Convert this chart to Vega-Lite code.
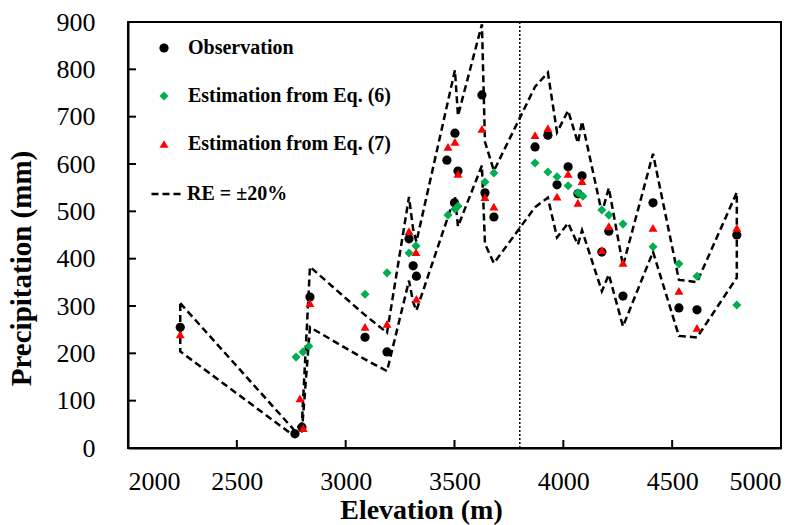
{
  "$schema": "https://vega.github.io/schema/vega-lite/v6.json",
  "width": 653,
  "height": 426,
  "autosize": {"type": "none"},
  "padding": {"left": 128, "top": 22, "right": 31, "bottom": 77},
  "background": "white",
  "config": {
    "view": {"stroke": "black", "strokeWidth": 2},
    "font": "Liberation Serif",
    "axis": {
      "grid": false,
      "domainColor": "black",
      "domainWidth": 2,
      "ticks": false,
      "labelFont": "Liberation Serif",
      "labelFontSize": 26,
      "labelColor": "black",
      "titleFont": "Liberation Serif",
      "titleFontSize": 29,
      "titleFontWeight": "bold",
      "titleColor": "black"
    },
    "legend": {
      "labelFont": "Liberation Serif",
      "labelFontSize": 20,
      "labelFontWeight": "bold",
      "labelColor": "black",
      "labelLimit": 400,
      "padding": 0
    }
  },
  "datasets": {
    "pts": [
      {"elev": 2240, "precip": 255, "series": "Observation"},
      {"elev": 2767, "precip": 30, "series": "Observation"},
      {"elev": 2799, "precip": 44, "series": "Observation"},
      {"elev": 2836, "precip": 319, "series": "Observation"},
      {"elev": 3089, "precip": 234, "series": "Observation"},
      {"elev": 3190, "precip": 203, "series": "Observation"},
      {"elev": 3291, "precip": 442, "series": "Observation"},
      {"elev": 3310, "precip": 385, "series": "Observation"},
      {"elev": 3325, "precip": 363, "series": "Observation"},
      {"elev": 3465, "precip": 608, "series": "Observation"},
      {"elev": 3500, "precip": 518, "series": "Observation"},
      {"elev": 3502, "precip": 665, "series": "Observation"},
      {"elev": 3516, "precip": 585, "series": "Observation"},
      {"elev": 3626, "precip": 746, "series": "Observation"},
      {"elev": 3640, "precip": 539, "series": "Observation"},
      {"elev": 3681, "precip": 488, "series": "Observation"},
      {"elev": 3870, "precip": 636, "series": "Observation"},
      {"elev": 3929, "precip": 661, "series": "Observation"},
      {"elev": 3971, "precip": 556, "series": "Observation"},
      {"elev": 4022, "precip": 594, "series": "Observation"},
      {"elev": 4067, "precip": 537, "series": "Observation"},
      {"elev": 4086, "precip": 575, "series": "Observation"},
      {"elev": 4177, "precip": 414, "series": "Observation"},
      {"elev": 4209, "precip": 458, "series": "Observation"},
      {"elev": 4274, "precip": 321, "series": "Observation"},
      {"elev": 4412, "precip": 518, "series": "Observation"},
      {"elev": 4531, "precip": 296, "series": "Observation"},
      {"elev": 4614, "precip": 292, "series": "Observation"},
      {"elev": 4797, "precip": 450, "series": "Observation"},
      {"elev": 2772, "precip": 192, "series": "Estimation from Eq. (6)"},
      {"elev": 2804, "precip": 203, "series": "Estimation from Eq. (6)"},
      {"elev": 2831, "precip": 215, "series": "Estimation from Eq. (6)"},
      {"elev": 3089, "precip": 325, "series": "Estimation from Eq. (6)"},
      {"elev": 3190, "precip": 370, "series": "Estimation from Eq. (6)"},
      {"elev": 3291, "precip": 412, "series": "Estimation from Eq. (6)"},
      {"elev": 3323, "precip": 427, "series": "Estimation from Eq. (6)"},
      {"elev": 3470, "precip": 492, "series": "Estimation from Eq. (6)"},
      {"elev": 3502, "precip": 505, "series": "Estimation from Eq. (6)"},
      {"elev": 3516, "precip": 511, "series": "Estimation from Eq. (6)"},
      {"elev": 3640, "precip": 562, "series": "Estimation from Eq. (6)"},
      {"elev": 3681, "precip": 581, "series": "Estimation from Eq. (6)"},
      {"elev": 3870, "precip": 602, "series": "Estimation from Eq. (6)"},
      {"elev": 3929, "precip": 583, "series": "Estimation from Eq. (6)"},
      {"elev": 3971, "precip": 573, "series": "Estimation from Eq. (6)"},
      {"elev": 4022, "precip": 554, "series": "Estimation from Eq. (6)"},
      {"elev": 4067, "precip": 539, "series": "Estimation from Eq. (6)"},
      {"elev": 4090, "precip": 532, "series": "Estimation from Eq. (6)"},
      {"elev": 4177, "precip": 503, "series": "Estimation from Eq. (6)"},
      {"elev": 4209, "precip": 492, "series": "Estimation from Eq. (6)"},
      {"elev": 4274, "precip": 473, "series": "Estimation from Eq. (6)"},
      {"elev": 4412, "precip": 425, "series": "Estimation from Eq. (6)"},
      {"elev": 4531, "precip": 389, "series": "Estimation from Eq. (6)"},
      {"elev": 4614, "precip": 363, "series": "Estimation from Eq. (6)"},
      {"elev": 4797, "precip": 302, "series": "Estimation from Eq. (6)"},
      {"elev": 2240, "precip": 240, "series": "Estimation from Eq. (7)"},
      {"elev": 2790, "precip": 105, "series": "Estimation from Eq. (7)"},
      {"elev": 2805, "precip": 42, "series": "Estimation from Eq. (7)"},
      {"elev": 2836, "precip": 306, "series": "Estimation from Eq. (7)"},
      {"elev": 3089, "precip": 256, "series": "Estimation from Eq. (7)"},
      {"elev": 3190, "precip": 262, "series": "Estimation from Eq. (7)"},
      {"elev": 3291, "precip": 458, "series": "Estimation from Eq. (7)"},
      {"elev": 3323, "precip": 414, "series": "Estimation from Eq. (7)"},
      {"elev": 3325, "precip": 315, "series": "Estimation from Eq. (7)"},
      {"elev": 3470, "precip": 636, "series": "Estimation from Eq. (7)"},
      {"elev": 3502, "precip": 647, "series": "Estimation from Eq. (7)"},
      {"elev": 3516, "precip": 579, "series": "Estimation from Eq. (7)"},
      {"elev": 3626, "precip": 674, "series": "Estimation from Eq. (7)"},
      {"elev": 3640, "precip": 530, "series": "Estimation from Eq. (7)"},
      {"elev": 3681, "precip": 510, "series": "Estimation from Eq. (7)"},
      {"elev": 3870, "precip": 661, "series": "Estimation from Eq. (7)"},
      {"elev": 3929, "precip": 676, "series": "Estimation from Eq. (7)"},
      {"elev": 3971, "precip": 531, "series": "Estimation from Eq. (7)"},
      {"elev": 4022, "precip": 579, "series": "Estimation from Eq. (7)"},
      {"elev": 4067, "precip": 518, "series": "Estimation from Eq. (7)"},
      {"elev": 4086, "precip": 564, "series": "Estimation from Eq. (7)"},
      {"elev": 4177, "precip": 418, "series": "Estimation from Eq. (7)"},
      {"elev": 4209, "precip": 469, "series": "Estimation from Eq. (7)"},
      {"elev": 4274, "precip": 391, "series": "Estimation from Eq. (7)"},
      {"elev": 4412, "precip": 465, "series": "Estimation from Eq. (7)"},
      {"elev": 4531, "precip": 332, "series": "Estimation from Eq. (7)"},
      {"elev": 4614, "precip": 254, "series": "Estimation from Eq. (7)"},
      {"elev": 4797, "precip": 465, "series": "Estimation from Eq. (7)"}
    ],
    "band": [
      {"ord": 1, "elev": 2240, "precip": 306, "band": "RE = ±20%"},
      {"ord": 2, "elev": 2767, "precip": 36, "band": "RE = ±20%"},
      {"ord": 3, "elev": 2799, "precip": 52.8, "band": "RE = ±20%"},
      {"ord": 4, "elev": 2836, "precip": 382.8, "band": "RE = ±20%"},
      {"ord": 5, "elev": 3089, "precip": 280.8, "band": "RE = ±20%"},
      {"ord": 6, "elev": 3190, "precip": 243.6, "band": "RE = ±20%"},
      {"ord": 7, "elev": 3291, "precip": 530.4, "band": "RE = ±20%"},
      {"ord": 8, "elev": 3310, "precip": 462, "band": "RE = ±20%"},
      {"ord": 9, "elev": 3325, "precip": 435.6, "band": "RE = ±20%"},
      {"ord": 10, "elev": 3502, "precip": 798, "band": "RE = ±20%"},
      {"ord": 11, "elev": 3516, "precip": 702, "band": "RE = ±20%"},
      {"ord": 12, "elev": 3626, "precip": 895.2, "band": "RE = ±20%"},
      {"ord": 13, "elev": 3640, "precip": 646.8, "band": "RE = ±20%"},
      {"ord": 14, "elev": 3681, "precip": 585.6, "band": "RE = ±20%"},
      {"ord": 15, "elev": 3870, "precip": 763.2, "band": "RE = ±20%"},
      {"ord": 16, "elev": 3929, "precip": 793.2, "band": "RE = ±20%"},
      {"ord": 17, "elev": 3971, "precip": 667.2, "band": "RE = ±20%"},
      {"ord": 18, "elev": 4022, "precip": 712.8, "band": "RE = ±20%"},
      {"ord": 19, "elev": 4067, "precip": 644.4, "band": "RE = ±20%"},
      {"ord": 20, "elev": 4086, "precip": 690, "band": "RE = ±20%"},
      {"ord": 21, "elev": 4177, "precip": 496.8, "band": "RE = ±20%"},
      {"ord": 22, "elev": 4209, "precip": 549.6, "band": "RE = ±20%"},
      {"ord": 23, "elev": 4274, "precip": 385.2, "band": "RE = ±20%"},
      {"ord": 24, "elev": 4412, "precip": 621.6, "band": "RE = ±20%"},
      {"ord": 25, "elev": 4531, "precip": 355.2, "band": "RE = ±20%"},
      {"ord": 26, "elev": 4614, "precip": 350.4, "band": "RE = ±20%"},
      {"ord": 27, "elev": 4797, "precip": 540, "band": "RE = ±20%"},
      {"ord": 28, "elev": 4797, "precip": 360, "band": "RE = ±20%"},
      {"ord": 29, "elev": 4614, "precip": 233.6, "band": "RE = ±20%"},
      {"ord": 30, "elev": 4531, "precip": 236.8, "band": "RE = ±20%"},
      {"ord": 31, "elev": 4412, "precip": 414.4, "band": "RE = ±20%"},
      {"ord": 32, "elev": 4274, "precip": 256.8, "band": "RE = ±20%"},
      {"ord": 33, "elev": 4209, "precip": 366.4, "band": "RE = ±20%"},
      {"ord": 34, "elev": 4177, "precip": 331.2, "band": "RE = ±20%"},
      {"ord": 35, "elev": 4086, "precip": 460, "band": "RE = ±20%"},
      {"ord": 36, "elev": 4067, "precip": 429.6, "band": "RE = ±20%"},
      {"ord": 37, "elev": 4022, "precip": 475.2, "band": "RE = ±20%"},
      {"ord": 38, "elev": 3971, "precip": 444.8, "band": "RE = ±20%"},
      {"ord": 39, "elev": 3929, "precip": 528.8, "band": "RE = ±20%"},
      {"ord": 40, "elev": 3870, "precip": 508.8, "band": "RE = ±20%"},
      {"ord": 41, "elev": 3681, "precip": 390.4, "band": "RE = ±20%"},
      {"ord": 42, "elev": 3640, "precip": 431.2, "band": "RE = ±20%"},
      {"ord": 43, "elev": 3626, "precip": 596.8, "band": "RE = ±20%"},
      {"ord": 44, "elev": 3516, "precip": 468, "band": "RE = ±20%"},
      {"ord": 45, "elev": 3502, "precip": 532, "band": "RE = ±20%"},
      {"ord": 46, "elev": 3325, "precip": 290.4, "band": "RE = ±20%"},
      {"ord": 47, "elev": 3310, "precip": 308, "band": "RE = ±20%"},
      {"ord": 48, "elev": 3291, "precip": 353.6, "band": "RE = ±20%"},
      {"ord": 49, "elev": 3190, "precip": 162.4, "band": "RE = ±20%"},
      {"ord": 50, "elev": 3089, "precip": 187.2, "band": "RE = ±20%"},
      {"ord": 51, "elev": 2836, "precip": 255.2, "band": "RE = ±20%"},
      {"ord": 52, "elev": 2799, "precip": 35.2, "band": "RE = ±20%"},
      {"ord": 53, "elev": 2767, "precip": 24, "band": "RE = ±20%"},
      {"ord": 54, "elev": 2240, "precip": 204, "band": "RE = ±20%"},
      {"ord": 55, "elev": 2240, "precip": 306, "band": "RE = ±20%"}
    ],
    "sep": [{"elev": 3800}],
    "xticks": [{"v": 2500}, {"v": 3000}, {"v": 3500}, {"v": 4000}, {"v": 4500}],
    "yticks": [{"v": 100}, {"v": 200}, {"v": 300}, {"v": 400}, {"v": 500}, {"v": 600}, {"v": 700}, {"v": 800}]
  },
  "layer": [
    {
      "data": {"name": "band"},
      "mark": {"type": "line", "color": "black", "strokeWidth": 2.5},
      "encoding": {
        "x": {
          "field": "elev", "type": "quantitative",
          "scale": {"domain": [2000, 5000], "nice": false},
          "axis": {"values": [2000, 2500, 3000, 3500, 4000, 4500, 5000], "format": "d", "title": "Elevation (m)", "titleFontSize": 28, "labelPadding": 20, "titleBaseline": "alphabetic", "titleY": 70, "titleX": 293}
        },
        "y": {
          "field": "precip", "type": "quantitative",
          "scale": {"domain": [0, 900], "nice": false},
          "axis": {"values": [0, 100, 200, 300, 400, 500, 600, 700, 800, 900], "format": "d", "title": "Precipitation (mm)", "labelPadding": 33, "titlePadding": 20, "titleY": 246}
        },
        "order": {"field": "ord", "type": "quantitative"},
        "strokeDash": {
          "field": "band", "type": "nominal",
          "scale": {"domain": ["RE = ±20%"], "range": [[7, 4]]},
          "legend": {"title": null, "orient": "none", "legendX": 22, "legendY": 155, "symbolType": "stroke", "symbolSize": 961, "symbolStrokeWidth": 2.5, "symbolStrokeColor": "black", "symbolDash": [7, 4], "labelOffset": 3}
        }
      }
    },
    {
      "data": {"name": "sep"},
      "mark": {"type": "rule", "color": "black", "strokeWidth": 1.5, "strokeDash": [2, 2]},
      "encoding": {"x": {"field": "elev", "type": "quantitative"}}
    },
    {
      "data": {"name": "xticks"},
      "mark": {"type": "tick", "orient": "vertical", "size": 8, "thickness": 2, "color": "black", "opacity": 1, "yOffset": -4},
      "encoding": {"x": {"field": "v", "type": "quantitative"}, "y": {"datum": 0}}
    },
    {
      "data": {"name": "yticks"},
      "mark": {"type": "tick", "orient": "horizontal", "size": 8, "thickness": 2, "color": "black", "opacity": 1, "xOffset": 4},
      "encoding": {"y": {"field": "v", "type": "quantitative"}, "x": {"datum": 2000}}
    },
    {
      "data": {"name": "pts"},
      "mark": {"type": "point", "filled": true, "opacity": 1},
      "encoding": {
        "x": {"field": "elev", "type": "quantitative"},
        "y": {"field": "precip", "type": "quantitative"},
        "color": {
          "field": "series", "type": "nominal",
          "scale": {"domain": ["Observation", "Estimation from Eq. (6)", "Estimation from Eq. (7)"], "range": ["#000000", "#00b050", "#ff0000"]},
          "legend": {"title": null, "orient": "none", "legendX": 26, "legendY": 16, "rowPadding": 28, "labelOffset": 14}
        },
        "shape": {
          "field": "series", "type": "nominal",
          "scale": {"domain": ["Observation", "Estimation from Eq. (6)", "Estimation from Eq. (7)"], "range": ["circle", "diamond", "triangle-up"]},
          "legend": {"title": null, "orient": "none", "legendX": 26, "legendY": 16, "rowPadding": 28, "labelOffset": 14}
        },
        "size": {
          "field": "series", "type": "nominal",
          "scale": {"domain": ["Observation", "Estimation from Eq. (6)", "Estimation from Eq. (7)"], "range": [85, 80, 95]},
          "legend": {"title": null, "orient": "none", "legendX": 26, "legendY": 16, "rowPadding": 28, "labelOffset": 14}
        }
      }
    }
  ]
}
